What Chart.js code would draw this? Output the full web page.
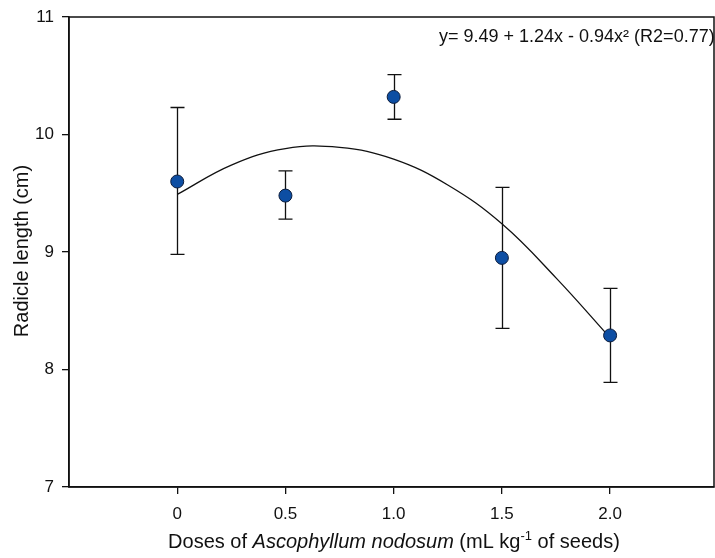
<!DOCTYPE html>
<html>
<head>
<meta charset="utf-8">
<script src="https://cdn.jsdelivr.net/npm/chart.js@4.4.1/dist/chart.umd.min.js"></script>
<style>
  html, body { margin: 0; padding: 0; background: #fff; overflow: hidden; }
  #wrap { width: 715px; height: 558px; position: relative; }
</style>
</head>
<body>
<div id="wrap"><canvas id="chart"></canvas></div>
<script>
// ── Data ────────────────────────────────────────────────────────
const doses      = [0, 0.5, 1.0, 1.5, 2.0];
const meanLength = [9.60, 9.48, 10.32, 8.95, 8.29];
const errUpper   = [10.23, 9.69, 10.51, 9.55, 8.69];
const errLower   = [8.98, 9.28, 10.13, 8.35, 7.89];

// fitted curve
const fitX = [0, 0.25, 0.5, 0.75, 1.0, 1.25, 1.5, 1.75, 2.0];
const fitY = [9.49, 9.74, 9.88, 9.89, 9.79, 9.57, 9.24, 8.78, 8.27];

const xTicks = [0, 0.5, 1.0, 1.5, 2.0];
const xTickLabels = ["0", "0.5", "1.0", "1.5", "2.0"];
const yTicks = [7, 8, 9, 10, 11];

const equationText = "y= 9.49 + 1.24x - 0.94x\u00b2 (R2=0.77)";

const FONT = "'Liberation Sans', Arial, sans-serif";

// ── Plugin: frame, error bars, titles, equation ─────────────────
const decorPlugin = {
  id: "decor",
  beforeDatasetsDraw(chart) {
    const { ctx, scales: { x, y } } = chart;
    ctx.save();
    ctx.strokeStyle = "#111";
    ctx.lineWidth = 1.3;
    doses.forEach((d, i) => {
      const px = Math.round(x.getPixelForValue(d)) + 0.5;
      const top = y.getPixelForValue(errUpper[i]);
      const bot = y.getPixelForValue(errLower[i]);
      ctx.beginPath();
      ctx.moveTo(px, top); ctx.lineTo(px, bot);
      ctx.moveTo(px - 7, top); ctx.lineTo(px + 7, top);
      ctx.moveTo(px - 7, bot); ctx.lineTo(px + 7, bot);
      ctx.stroke();
    });
    ctx.restore();
  },
  afterDraw(chart) {
    const { ctx, chartArea: a } = chart;
    ctx.save();
    // frame
    ctx.strokeStyle = "#111";
    ctx.lineWidth = 1.5;
    ctx.strokeRect(a.left, a.top, a.right - a.left, a.bottom - a.top);

    ctx.fillStyle = "#111";
    // equation
    ctx.font = "18px " + FONT;
    ctx.textAlign = "left";
    ctx.textBaseline = "middle";
    ctx.fillText(equationText, 439, 37);

    // y title
    ctx.save();
    ctx.translate(22, 251);
    ctx.rotate(-Math.PI / 2);
    ctx.font = "20px " + FONT;
    ctx.textAlign = "center";
    ctx.fillText("Radicle length (cm)", 0, 0);
    ctx.restore();

    // x title with italic part and superscript
    const parts = [
      { t: "Doses of ", f: "20px " + FONT, dy: 0 },
      { t: "Ascophyllum nodosum", f: "italic 20px " + FONT, dy: 0 },
      { t: " (mL kg", f: "20px " + FONT, dy: 0 },
      { t: "-1", f: "13px " + FONT, dy: -8 },
      { t: " of seeds)", f: "20px " + FONT, dy: 0 },
    ];
    let total = 0;
    parts.forEach(p => { ctx.font = p.f; total += ctx.measureText(p.t).width; });
    let cx = 394 - total / 2;
    ctx.textBaseline = "alphabetic";
    parts.forEach(p => {
      ctx.font = p.f;
      ctx.fillText(p.t, cx, 548 + p.dy);
      cx += ctx.measureText(p.t).width;
    });
    ctx.restore();
  },
};

// ── Chart ───────────────────────────────────────────────────────
new Chart(document.getElementById("chart"), {
  type: "scatter",
  data: {
    datasets: [
      {
        label: "Radicle length",
        data: doses.map((d, i) => ({ x: d, y: meanLength[i] })),
        backgroundColor: "#0d4ea3",
        borderColor: "#0b1b3a",
        borderWidth: 1,
        pointRadius: 6.5,
        pointHoverRadius: 6.5,
      },
      {
        type: "line",
        label: "Fit",
        data: fitX.map((v, i) => ({ x: v, y: fitY[i] })),
        borderColor: "#111",
        borderWidth: 1.3,
        pointRadius: 0,
        tension: 0.4,
        fill: false,
      },
    ],
  },
  options: {
    responsive: true,
    maintainAspectRatio: false,
    animation: false,
    layout: { autoPadding: false, padding: { top: 17, right: 1, left: 0, bottom: 0 } },
    plugins: {
      legend: { display: false },
      tooltip: { enabled: false },
    },
    scales: {
      x: {
        type: "linear",
        min: -0.5,
        max: 2.48,
        afterBuildTicks: s => { s.ticks = xTicks.map(v => ({ value: v })); },
        afterFit: s => { s.height = 71; s.paddingLeft = 0; s.paddingRight = 0; },
        ticks: {
          color: "#111",
          font: { family: FONT, size: 17 },
          padding: 10,
          maxRotation: 0,
          callback: v => xTickLabels[xTicks.indexOf(v)] ?? "",
        },
        grid: { drawOnChartArea: false, color: "#111", tickLength: 7, lineWidth: 1.3 },
        border: { color: "#111", width: 1.5 },
      },
      y: {
        min: 7,
        max: 11,
        afterBuildTicks: s => { s.ticks = yTicks.map(v => ({ value: v })); },
        afterFit: s => { s.width = 69; s.paddingTop = 0; s.paddingBottom = 0; },
        ticks: {
          color: "#111",
          font: { family: FONT, size: 17 },
          padding: 8,
        },
        grid: { drawOnChartArea: false, color: "#111", tickLength: 7, lineWidth: 1.3 },
        border: { color: "#111", width: 1.5 },
      },
    },
  },
  plugins: [decorPlugin],
});
</script>
</body>
</html>
